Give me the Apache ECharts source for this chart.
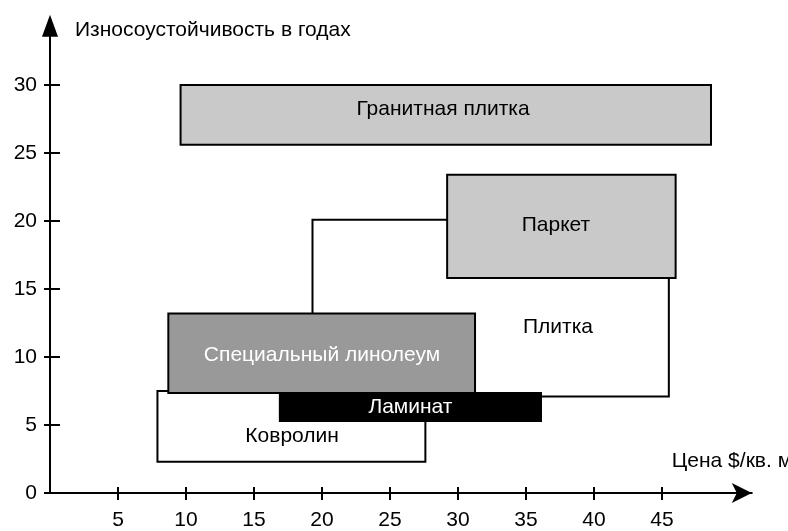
<!DOCTYPE html>
<html>
<head>
<meta charset="utf-8">
<script src="https://cdn.jsdelivr.net/npm/echarts@6/dist/echarts.min.js"></script>
<style>html,body{margin:0;padding:0;background:#fff}#c{width:788px;height:531px}</style>
</head>
<body>
<div id="c"></div>
<script>
// ---- data ----
const names   = ['Плитка', 'Гранитная плитка', 'Паркет', 'Ковролин', 'Специальный линолеум', 'Ламинат'];
const priceFrom = [19.3, 9.6, 29.2, 7.9, 8.7, 16.9];
const priceTo   = [45.5, 48.6, 46.0, 27.6, 31.25, 36.1];
const lifeFrom  = [7.1, 25.6, 15.8, 2.3, 7.35, 5.3];
const lifeTo    = [20.1, 30.0, 23.4, 7.5, 13.2, 7.35];
const labelPrice = [37.35, 28.9, 37.2, 17.8, 20.0, 26.5];
const labelLife  = [12.2, 28.2, 19.7, 4.2, 10.15, 6.3];
const xTicks = [5, 10, 15, 20, 25, 30, 35, 40, 45];
const yTicks = [0, 5, 10, 15, 20, 25, 30];
const xName = 'Цена $/кв. м';
const yName = 'Износоустойчивость в годах';

// ---- styles ----
const fills = ['#ffffff', '#c9c9c9', '#c9c9c9', '#ffffff', '#999999', '#000000'];
const textColors = ['#000', '#000', '#000', '#000', '#fff', '#fff'];
const FONT = "'Liberation Sans', Arial, sans-serif";
const FS = 21;

const data = names.map((n, i) => [priceFrom[i], priceTo[i], lifeFrom[i], lifeTo[i], labelPrice[i], labelLife[i], i]);

const chart = echarts.init(document.getElementById('c'), null, {renderer: 'canvas'});
const xMin = 0, xMax = 51.6, yMin = 0, yMax = 34.35;

function xAxisBase(extra) {
  return Object.assign({
    type: 'value', min: xMin, max: xMax, position: 'bottom',
    splitLine: {show: false}
  }, extra);
}
function yAxisBase(extra) {
  return Object.assign({
    type: 'value', min: yMin, max: yMax, position: 'left',
    splitLine: {show: false}
  }, extra);
}

chart.setOption({
  animation: false,
  backgroundColor: '#fff',
  grid: {left: 50, right: 36.2, top: 25.84, bottom: 38, containLabel: false, outerBoundsMode: 'none'},
  xAxis: [
    xAxisBase({
      name: xName, nameLocation: 'end', nameGap: -80,
      nameTextStyle: {fontFamily: FONT, fontSize: FS, color: '#000', align: 'left', verticalAlign: 'bottom', padding: [0, 0, 21, 0]},
      axisLine: {show: true, lineStyle: {color: '#000', width: 2}, symbol: ['none', 'arrow'], symbolSize: [15, 20]},
      axisTick: {show: true, inside: false, length: 7, lineStyle: {color: '#000', width: 2}, customValues: xTicks},
      axisLabel: {show: true, margin: 17, fontFamily: FONT, fontSize: FS, color: '#000', customValues: xTicks}
    }),
    xAxisBase({
      axisLine: {show: false},
      axisTick: {show: true, inside: true, length: 6, lineStyle: {color: '#000', width: 2}, customValues: xTicks},
      axisLabel: {show: false}
    })
  ],
  yAxis: [
    yAxisBase({
      name: yName, nameLocation: 'end', nameGap: -4,
      nameTextStyle: {fontFamily: FONT, fontSize: FS, color: '#000', align: 'left', verticalAlign: 'middle', padding: [0, 0, 0, 25]},
      axisLine: {show: true, lineStyle: {color: '#000', width: 2}, symbol: ['none', 'triangle'], symbolSize: [16, 22]},
      axisTick: {show: true, inside: false, length: 6, lineStyle: {color: '#000', width: 2}, customValues: yTicks},
      axisLabel: {show: true, margin: 13, fontFamily: FONT, fontSize: FS, color: '#000', customValues: yTicks}
    }),
    yAxisBase({
      axisLine: {show: false},
      axisTick: {show: true, inside: true, length: 10, lineStyle: {color: '#000', width: 2}, customValues: yTicks},
      axisLabel: {show: false}
    })
  ],
  series: [{
    type: 'custom',
    coordinateSystem: 'cartesian2d',
    xAxisIndex: 0, yAxisIndex: 0,
    data: data,
    clip: false,
    renderItem: function (params, api) {
      const i = api.value(6);
      const p1 = api.coord([api.value(0), api.value(3)]);
      const p2 = api.coord([api.value(1), api.value(2)]);
      const lp = api.coord([api.value(4), api.value(5)]);
      return {
        type: 'group',
        children: [{
          type: 'rect',
          shape: {x: p1[0], y: p1[1], width: p2[0] - p1[0], height: p2[1] - p1[1]},
          style: {fill: fills[i], stroke: '#000', lineWidth: 2}
        }, {
          type: 'text',
          x: lp[0], y: lp[1],
          style: {text: names[i], fill: textColors[i], font: FS + 'px ' + FONT, align: 'center', verticalAlign: 'middle'}
        }]
      };
    }
  }]
});
</script>
</body>
</html>
